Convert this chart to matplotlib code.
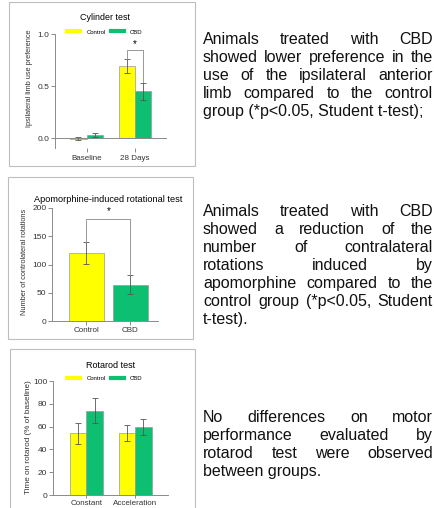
import matplotlib
matplotlib.use('Agg')
import matplotlib.pyplot as plt
import numpy as np
from matplotlib.lines import Line2D
from matplotlib.patches import Rectangle

plt.rcParams['font.family'] = ['Liberation Sans', 'DejaVu Sans']

W, H = 435, 508

# cylinder test (ipsilateral limb use preference)
cyl_groups = ['Baseline', '28 Days']
cyl_control = [-0.005, 0.69]
cyl_control_err = [0.015, 0.065]
cyl_cbd = [0.03, 0.45]
cyl_cbd_err = [0.02, 0.08]

# apomorphine-induced rotations
apo_groups = ['Control', 'CBD']
apo_mean = [120, 64]
apo_err = [19, 17]

# rotarod (% of baseline)
rot_groups = ['Constant', 'Acceleration']
rot_control = [54, 54.5]
rot_control_err = [9.5, 7]
rot_cbd = [74, 59.5]
rot_cbd_err = [11, 7]

text1 = ["Animals treated with CBD",
         "showed lower preference in the",
         "use of the ipsilateral anterior",
         "limb compared to the control",
         "group (*p<0.05, Student t-test);"]
text2 = ["Animals treated with CBD",
         "showed a reduction of the",
         "number of contralateral",
         "rotations induced by",
         "apomorphine compared to the",
         "control group (*p<0.05, Student",
         "t-test)."]
text3 = ["No differences on motor",
         "performance evaluated by",
         "rotarod test were observed",
         "between groups."]

YELLOW = '#FFFF00'
GREEN = '#0DBF70'
EDGE = '#9a9a9a'
AX = '#8a8a8a'
ERR = dict(ecolor='#555555', elinewidth=0.6, capsize=2, capthick=0.6)

fig = plt.figure(figsize=(W / 100, H / 100), dpi=100)


def px_axes(x0, y0, x1, y1):
    return fig.add_axes([x0 / W, 1 - y1 / H, (x1 - x0) / W, (y1 - y0) / H])


def box(x0, y0, x1, y1):
    fig.add_artist(Rectangle((x0 / W, 1 - y1 / H), (x1 - x0) / W, (y1 - y0) / H,
                             transform=fig.transFigure, fill=False,
                             ec='#bdbdbd', lw=0.8))


def style(ax, bottom=True):
    for s in ['top', 'right']:
        ax.spines[s].set_visible(False)
    ax.spines['left'].set_color(AX)
    ax.spines['left'].set_linewidth(0.7)
    ax.spines['bottom'].set_color(AX)
    ax.spines['bottom'].set_linewidth(0.7)
    ax.spines['bottom'].set_visible(bottom)
    ax.tick_params(axis='y', length=3, width=0.7, color=AX, pad=1, labelsize=6,
                   labelcolor='#333333')
    ax.tick_params(axis='x', length=3, width=0.7, color=AX, pad=1.5, labelsize=5.8,
                   labelcolor='#333333')


def ptext(x, y, s, **kw):
    return fig.text(x / W, 1 - y / H, s, **kw)


def legend(ax, xc, yc):
    hs = [Line2D([], [], color=YELLOW, lw=3), Line2D([], [], color=GREEN, lw=3)]
    ax.legend(hs, ['Control', 'CBD'], ncol=2, loc='center',
              bbox_to_anchor=(xc / W, 1 - yc / H), bbox_transform=fig.transFigure,
              frameon=False, fontsize=4.3, handlelength=2.2, handletextpad=1.0,
              columnspacing=0.9, borderpad=0, borderaxespad=0)


def bracket(ax, x0, x1, ytop, yl, yr, ystar):
    ax.plot([x0, x0, x1, x1], [yl, ytop, ytop, yr], color='#888888', lw=0.6)
    ax.text((x0 + x1) / 2, ystar, '*', ha='center', va='center', fontsize=7)


# panel boxes
box(9.5, 2, 195, 166)
box(8, 177, 193, 339)
box(10, 349, 195, 520)

# ---- cylinder test
ax1 = px_axes(55, 34, 167, 148.4)
x = np.arange(len(cyl_groups))
w = 0.34
ax1.bar(x - w / 2, cyl_control, w, yerr=cyl_control_err, color=YELLOW,
        edgecolor=EDGE, lw=0.5, error_kw=ERR)
ax1.bar(x + w / 2, cyl_cbd, w, yerr=cyl_cbd_err, color=GREEN,
        edgecolor=EDGE, lw=0.5, error_kw=ERR)
ax1.axhline(0, color=AX, lw=0.7)
ax1.set_ylim(-0.1, 1.0)
ax1.set_yticks([0, 0.5, 1.0], ['0.0', '0.5', '1.0'])
ax1.set_xlim(-0.65, 1.66)
ax1.set_xticks(x, cyl_groups)
style(ax1, bottom=False)
bracket(ax1, 1 - w / 2, 1 + w / 2, 0.845,
        cyl_control[1] + cyl_control_err[1] + 0.005,
        cyl_cbd[1] + cyl_cbd_err[1] + 0.005, 0.9)
ptext(105, 17, 'Cylinder test', ha='center', va='center', fontsize=6.4)
ptext(30, 78, 'Ipsilateral limb use preference', ha='center', va='center',
      rotation=90, fontsize=5.3, color='#333333')
legend(ax1, 105, 32)

# ---- apomorphine test
ax2 = px_axes(52, 208, 158, 321)
x = np.arange(len(apo_groups))
ax2.bar(x, apo_mean, 0.8, yerr=apo_err, color=[YELLOW, GREEN],
        edgecolor=EDGE, lw=0.5, error_kw=ERR)
ax2.set_ylim(0, 200)
ax2.set_yticks([0, 50, 100, 150, 200])
ax2.set_xlim(-0.784, 1.625)
ax2.set_xticks(x, apo_groups)
style(ax2)
bracket(ax2, 0, 1, 180, apo_mean[0] + apo_err[0], apo_mean[1] + apo_err[1], 194)
ptext(108, 199, 'Apomorphine-induced rotational test', ha='center', va='center',
      fontsize=6.6)
ptext(25, 262, 'Number of controlateral rotations', ha='center', va='center',
      rotation=90, fontsize=5.35, color='#333333')

# ---- rotarod
ax3 = px_axes(53, 381, 168, 495)
x = np.arange(len(rot_groups))
ax3.bar(x - w / 2, rot_control, w, yerr=rot_control_err, color=YELLOW,
        edgecolor=EDGE, lw=0.5, error_kw=ERR)
ax3.bar(x + w / 2, rot_cbd, w, yerr=rot_cbd_err, color=GREEN,
        edgecolor=EDGE, lw=0.5, error_kw=ERR)
ax3.set_ylim(0, 100)
ax3.set_yticks([0, 20, 40, 60, 80, 100])
ax3.set_xlim(-0.69, 1.68)
ax3.set_xticks(x, rot_groups)
style(ax3)
ax3.tick_params(axis='x', length=2)
ptext(111, 366, 'Rotarod test', ha='center', va='center', fontsize=6.5)
ptext(29, 437, 'Time on rotarod (% of baseline)', ha='center', va='center',
      rotation=90, fontsize=5.9, color='#333333')
legend(ax3, 105, 378)

# ---- justified paragraphs on the right
renderer = fig.canvas.get_renderer()
X0, X1 = 203, 433
FS = 11.5


def paragraph(lines, y0, step=18):
    for i, line in enumerate(lines):
        y = y0 + i * step + 5  # baseline
        if i == len(lines) - 1:
            ptext(X0, y, line, ha='left', va='baseline', fontsize=FS, color='#111111')
            continue
        words = line.split()
        ts = [ptext(X0, y, wd, ha='left', va='baseline', fontsize=FS,
                    color='#111111') for wd in words]
        widths = [t.get_window_extent(renderer).width for t in ts]
        gap = (X1 - X0 - sum(widths)) / (len(words) - 1)
        pos = X0
        for t, wd in zip(ts, widths):
            t.set_x(pos / W)
            pos += wd + gap


paragraph(text1, 39)
paragraph(text2, 211)
paragraph(text3, 417)

fig.savefig('out.png', dpi=100)
